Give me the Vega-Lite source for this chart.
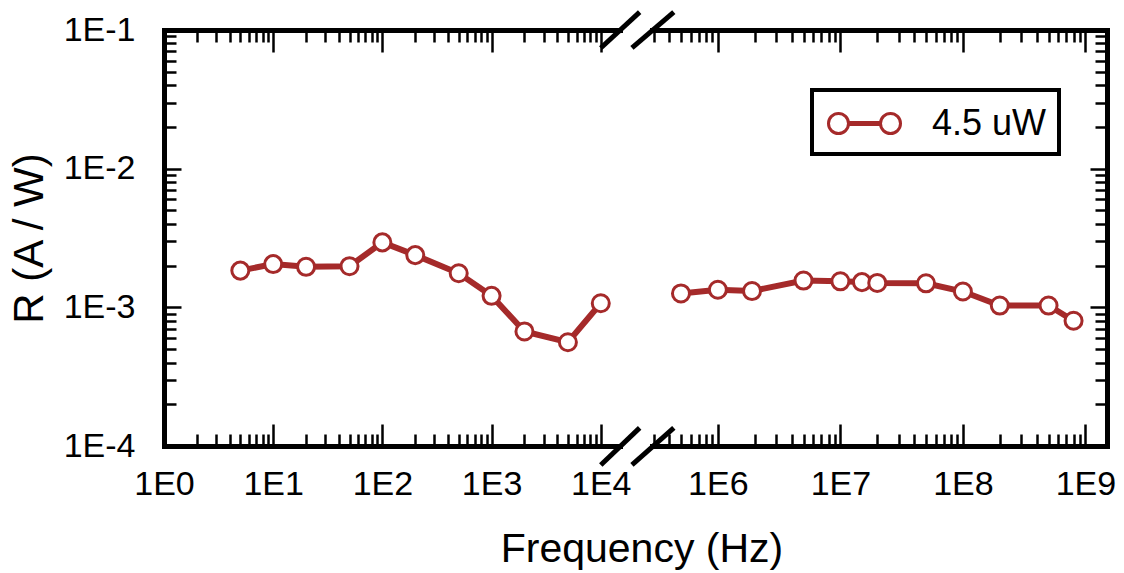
{
  "$schema": "https://vega.github.io/schema/vega-lite/v6.json",
  "padding": {"left": 8, "top": 9, "right": 5, "bottom": 5},
  "background": "white",
  "config": {
    "view": {"stroke": null},
    "font": "Liberation Sans",
    "axis": {
      "grid": false,
      "domainColor": "black",
      "domainWidth": 5,
      "domainCap": "square",
      "tickColor": "black",
      "tickWidth": 2.5,
      "labelFont": "Liberation Sans",
      "labelFontSize": 34,
      "labelColor": "black",
      "labelFlush": false,
      "labelOverlap": false,
      "titleFont": "Liberation Sans",
      "titleColor": "black",
      "titleFontWeight": "normal"
    }
  },
  "datasets": {
    "pts": [
      {"f": 5, "r": 0.00184, "seg": "low", "series": "4.5 uW"},
      {"f": 10, "r": 0.00205, "seg": "low", "series": "4.5 uW"},
      {"f": 20, "r": 0.00196, "seg": "low", "series": "4.5 uW"},
      {"f": 50, "r": 0.00198, "seg": "low", "series": "4.5 uW"},
      {"f": 100, "r": 0.00294, "seg": "low", "series": "4.5 uW"},
      {"f": 200, "r": 0.00238, "seg": "low", "series": "4.5 uW"},
      {"f": 500, "r": 0.00176, "seg": "low", "series": "4.5 uW"},
      {"f": 1000, "r": 0.00121, "seg": "low", "series": "4.5 uW"},
      {"f": 2000, "r": 0.00067, "seg": "low", "series": "4.5 uW"},
      {"f": 5000, "r": 0.00056, "seg": "low", "series": "4.5 uW"},
      {"f": 10000, "r": 0.00107, "seg": "low", "series": "4.5 uW"},
      {"f": 500000, "r": 0.00126, "seg": "high", "series": "4.5 uW"},
      {"f": 1000000, "r": 0.00134, "seg": "high", "series": "4.5 uW"},
      {"f": 1900000, "r": 0.00131, "seg": "high", "series": "4.5 uW"},
      {"f": 5000000, "r": 0.00156, "seg": "high", "series": "4.5 uW"},
      {"f": 10000000, "r": 0.00154, "seg": "high", "series": "4.5 uW"},
      {"f": 15000000, "r": 0.00152, "seg": "high", "series": "4.5 uW"},
      {"f": 20000000, "r": 0.0015, "seg": "high", "series": "4.5 uW"},
      {"f": 50000000, "r": 0.00149, "seg": "high", "series": "4.5 uW"},
      {"f": 100000000, "r": 0.0013, "seg": "high", "series": "4.5 uW"},
      {"f": 200000000, "r": 0.00103, "seg": "high", "series": "4.5 uW"},
      {"f": 500000000, "r": 0.00103, "seg": "high", "series": "4.5 uW"},
      {"f": 800000000, "r": 0.0008, "seg": "high", "series": "4.5 uW"}
    ],
    "breaks": [
      {"panel": "low", "f1": 10000, "f2": 22700, "r1": 0.0742, "r2": 0.1347},
      {"panel": "low", "f1": 10000, "f2": 22700, "r1": 0.000073, "r2": 0.000135},
      {"panel": "high", "f1": 199000, "f2": 437000, "r1": 0.0742, "r2": 0.1347},
      {"panel": "high", "f1": 199000, "f2": 437000, "r1": 0.000073, "r2": 0.000135}
    ]
  },
  "title": {
    "text": "Frequency (Hz)",
    "orient": "bottom",
    "anchor": "middle",
    "fontSize": 41,
    "fontWeight": "normal",
    "font": "Liberation Sans",
    "color": "black",
    "offset": 19,
    "dx": 80
  },
  "spacing": 32,
  "bounds": "flush",
  "resolve": {"scale": {"x": "independent", "color": "independent"}, "legend": {"color": "independent"}},
  "hconcat": [
    {
      "width": 456,
      "height": 416,
      "resolve": {"axis": {"x": "independent", "y": "independent"}},
      "layer": [
        {
          "data": {"name": "pts"},
          "transform": [{"filter": "datum.seg == 'low'"}],
          "mark": {"type": "line", "color": "#a52a2a", "strokeWidth": 6},
          "encoding": {
            "x": {"field": "f", "type": "quantitative",
              "scale": {"type": "log", "domain": [1, 15000], "nice": false},
              "axis": {"orient": "bottom", "title": null,
                "values": [1,2,3,4,5,6,7,8,9,10,20,30,40,50,60,70,80,90,100,200,300,400,500,600,700,800,900,1000,2000,3000,4000,5000,6000,7000,8000,9000,10000],
                "labelExpr": "abs(log(datum.value)/LN10 - round(log(datum.value)/LN10)) < 0.001 ? '1E' + round(log(datum.value)/LN10) : ''",
                "tickSize": {"condition": {"test": "abs(log(datum.value)/LN10 - round(log(datum.value)/LN10)) < 0.001", "value": -22}, "value": -12},
                "labelPadding": 43}},
            "y": {"field": "r", "type": "quantitative",
              "scale": {"type": "log", "domain": [0.0001, 0.1], "nice": false},
              "axis": {"orient": "left", "title": "R (A / W)", "titleFontSize": 42, "titlePadding": 12,
                "values": [0.0001,0.0002,0.0003,0.0004,0.0005,0.0006,0.0007,0.0008,0.0009,0.001,0.002,0.003,0.004,0.005,0.006,0.007,0.008,0.009,0.01,0.02,0.03,0.04,0.05,0.06,0.07,0.08,0.09,0.1],
                "labelExpr": "abs(log(datum.value)/LN10 - round(log(datum.value)/LN10)) < 0.001 ? '1E' + round(log(datum.value)/LN10) : ''",
                "tickSize": {"condition": {"test": "abs(log(datum.value)/LN10 - round(log(datum.value)/LN10)) < 0.001", "value": -17}, "value": -12},
                "labelPadding": 46}}
          }
        },
        {
          "data": {"name": "pts"},
          "transform": [{"filter": "datum.seg == 'low'"}],
          "mark": {"type": "point", "shape": "circle", "filled": true, "fill": "white", "stroke": "#a52a2a", "strokeWidth": 3, "size": 290, "opacity": 1},
          "encoding": {
            "x": {"field": "f", "type": "quantitative",
              "scale": {"type": "log", "domain": [1, 15000], "nice": false},
              "axis": {"orient": "top", "title": null, "labels": false,
                "values": [1,2,3,4,5,6,7,8,9,10,20,30,40,50,60,70,80,90,100,200,300,400,500,600,700,800,900,1000,2000,3000,4000,5000,6000,7000,8000,9000,10000],
                "tickSize": {"condition": {"test": "abs(log(datum.value)/LN10 - round(log(datum.value)/LN10)) < 0.001", "value": -22}, "value": -12}}},
            "y": {"field": "r", "type": "quantitative",
              "scale": {"type": "log", "domain": [0.0001, 0.1], "nice": false},
              "axis": null}
          }
        },
        {
          "data": {"name": "breaks"},
          "transform": [{"filter": "datum.panel == 'low'"}],
          "mark": {"type": "rule", "color": "black", "strokeWidth": 5, "clip": false},
          "encoding": {
            "x": {"field": "f1", "type": "quantitative", "scale": {"type": "log", "domain": [1, 15000], "nice": false}, "axis": null},
            "x2": {"field": "f2"},
            "y": {"field": "r1", "type": "quantitative", "scale": {"type": "log", "domain": [0.0001, 0.1], "nice": false}, "axis": null},
            "y2": {"field": "r2"}
          }
        }
      ]
    },
    {
      "width": 455,
      "height": 416,
      "resolve": {"axis": {"x": "independent", "y": "independent"}},
      "layer": [
        {
          "data": {"name": "pts"},
          "transform": [{"filter": "datum.seg == 'high'"}],
          "mark": {"type": "line", "strokeWidth": 6},
          "encoding": {
            "x": {"field": "f", "type": "quantitative",
              "scale": {"type": "log", "domain": [290000, 1500000000], "nice": false},
              "axis": {"orient": "bottom", "title": null,
                "values": [300000,400000,500000,600000,700000,800000,900000,1000000,2000000,3000000,4000000,5000000,6000000,7000000,8000000,9000000,10000000,20000000,30000000,40000000,50000000,60000000,70000000,80000000,90000000,100000000,200000000,300000000,400000000,500000000,600000000,700000000,800000000,900000000,1000000000],
                "labelExpr": "abs(log(datum.value)/LN10 - round(log(datum.value)/LN10)) < 0.001 ? '1E' + round(log(datum.value)/LN10) : ''",
                "tickSize": {"condition": {"test": "abs(log(datum.value)/LN10 - round(log(datum.value)/LN10)) < 0.001", "value": -22}, "value": -12},
                "labelPadding": 43}},
            "y": {"field": "r", "type": "quantitative",
              "scale": {"type": "log", "domain": [0.0001, 0.1], "nice": false},
              "axis": {"orient": "right", "title": null, "labels": false,
                "values": [0.0001,0.0002,0.0003,0.0004,0.0005,0.0006,0.0007,0.0008,0.0009,0.001,0.002,0.003,0.004,0.005,0.006,0.007,0.008,0.009,0.01,0.02,0.03,0.04,0.05,0.06,0.07,0.08,0.09,0.1],
                "tickSize": {"condition": {"test": "abs(log(datum.value)/LN10 - round(log(datum.value)/LN10)) < 0.001", "value": -17}, "value": -12}}},
            "color": {"field": "series", "type": "nominal",
              "scale": {"range": ["#a52a2a"]},
              "legend": {
                "orient": "none", "legendX": 160, "legendY": 60, "title": null,
                "symbolType": "M -0.85 0 A 0.5 0.5 0 1 0 0.15 0 A 0.5 0.5 0 1 0 -0.85 0 Z M 0.15 -0.05 L 1.75 -0.05 M 0.15 0.05 L 1.75 0.05 M 1.75 0 A 0.5 0.5 0 1 0 2.75 0 A 0.5 0.5 0 1 0 1.75 0 Z",
                "symbolSize": 1600,
                "symbolStrokeWidth": 3,
                "labelFont": "Liberation Sans", "labelFontSize": 36, "labelColor": "black",
                "labelOffset": 65,
                "padding": 12,
                "strokeColor": "black",
                "fillColor": "white",
                "encode": {
                  "legend": {"update": {"strokeWidth": {"value": 4}}},
                  "symbols": {"update": {"fill": {"value": "white"}, "stroke": {"value": "#a52a2a"}, "strokeWidth": {"value": 3}, "opacity": {"value": 1}}}
                }
              }}
          }
        },
        {
          "data": {"name": "pts"},
          "transform": [{"filter": "datum.seg == 'high'"}],
          "mark": {"type": "point", "shape": "circle", "filled": true, "fill": "white", "stroke": "#a52a2a", "strokeWidth": 3, "size": 290, "opacity": 1},
          "encoding": {
            "x": {"field": "f", "type": "quantitative",
              "scale": {"type": "log", "domain": [290000, 1500000000], "nice": false},
              "axis": {"orient": "top", "title": null, "labels": false,
                "values": [300000,400000,500000,600000,700000,800000,900000,1000000,2000000,3000000,4000000,5000000,6000000,7000000,8000000,9000000,10000000,20000000,30000000,40000000,50000000,60000000,70000000,80000000,90000000,100000000,200000000,300000000,400000000,500000000,600000000,700000000,800000000,900000000,1000000000],
                "tickSize": {"condition": {"test": "abs(log(datum.value)/LN10 - round(log(datum.value)/LN10)) < 0.001", "value": -22}, "value": -12}}},
            "y": {"field": "r", "type": "quantitative",
              "scale": {"type": "log", "domain": [0.0001, 0.1], "nice": false},
              "axis": null}
          }
        },
        {
          "data": {"name": "breaks"},
          "transform": [{"filter": "datum.panel == 'high'"}],
          "mark": {"type": "rule", "color": "black", "strokeWidth": 5, "clip": false},
          "encoding": {
            "x": {"field": "f1", "type": "quantitative", "scale": {"type": "log", "domain": [290000, 1500000000], "nice": false}, "axis": null},
            "x2": {"field": "f2"},
            "y": {"field": "r1", "type": "quantitative", "scale": {"type": "log", "domain": [0.0001, 0.1], "nice": false}, "axis": null},
            "y2": {"field": "r2"}
          }
        }
      ]
    }
  ]
}
